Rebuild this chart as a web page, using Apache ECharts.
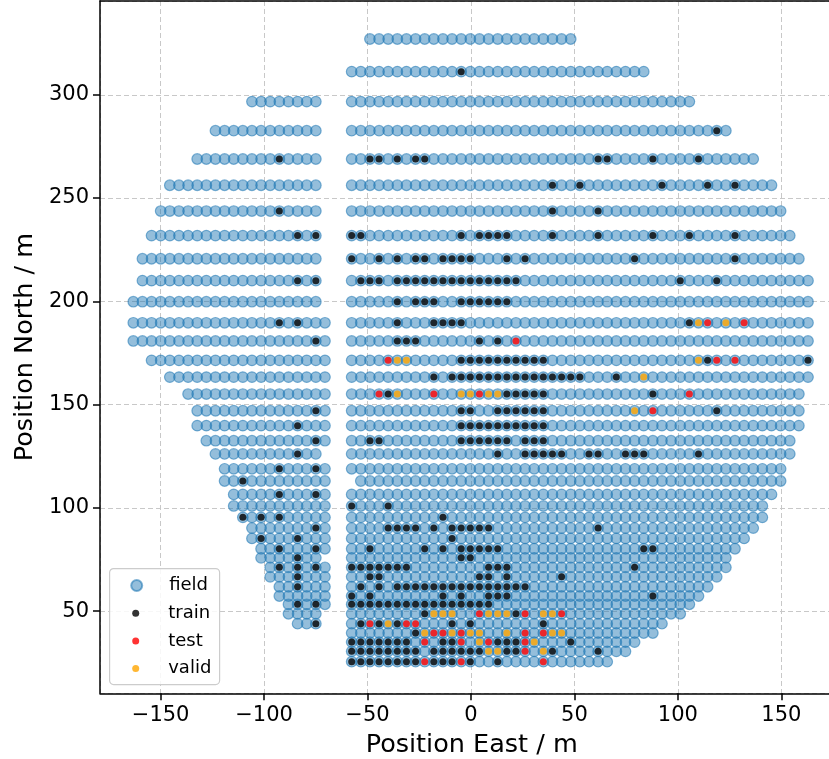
<!DOCTYPE html>
<html><head><meta charset="utf-8">
<script src="https://cdn.jsdelivr.net/npm/echarts@6/dist/echarts.min.js"></script>
<style>html,body{margin:0;padding:0;background:#fff}#c{width:829px;height:759px}</style>
</head><body><div id="c"></div>
<script>
// Row north positions (m), top to bottom
const rowY = [327.0, 311.2, 296.7, 282.6, 268.9, 256.2, 243.7, 231.8, 220.6, 210.0,
  199.8, 189.6, 180.8, 171.4, 163.3, 155.1, 147.0, 139.8, 132.5, 126.1,
  118.9, 113.0, 106.5, 100.9, 95.4, 90.2, 85.2, 80.2, 75.8, 71.2,
  66.6, 61.8, 57.3, 53.3, 48.7, 43.9, 39.4, 35.0, 30.5, 25.5];
// Station spacing along a row (m) and first station east position of the two blocks
const stationStep = 4.411;
const westBlockStart = -163.2;
const eastBlockStart = -57.66;
// Station index ranges per row (null = no stations)
const westFrom = [null, null, 13, 9, 7, 4, 3, 2, 1, 1, 0, 0, 0, 2, 4, 6, 7, 7, 8, 9,
  10, 10, 11, 11, 12, 13, 13, 14, 14, 15, 15, 16, 16, 17, 17, 18, null, null, null, null];
const westTo = [null, null, 20, 20, 20, 20, 20, 20, 20, 20, 20, 21, 21, 21, 21, 21, 21, 21, 21, 20,
  21, 21, 21, 21, 21, 21, 21, 21, 20, 21, 21, 21, 21, 21, 20, 20, null, null, null, null];
const eastFrom = [2, 0, 0, 0, 0, 0, 0, 0, 0, 0, 0, 0, 0, 0, 0, 0, 0, 0, 0, 0,
  0, 1, 0, 0, 0, 0, 0, 0, 0, 0, 0, 0, 0, 0, 0, 0, 0, 0, 0, 0];
const eastTo = [24, 32, 37, 41, 44, 46, 47, 48, 49, 50, 50, 50, 50, 50, 50, 49, 49, 49, 48, 48,
  47, 47, 46, 45, 45, 44, 43, 42, 41, 41, 40, 39, 38, 37, 36, 34, 33, 31, 30, 28];
// Selected stations (index lists per row)
const trainWest = {4:[16], 6:[16], 7:[18,20], 9:[18,20], 11:[16,18], 12:[20], 16:[20], 17:[18], 18:[20], 19:[18],
  20:[16,20], 21:[12], 22:[16,20], 24:[12,14,16], 25:[20], 26:[14,18], 27:[16,20], 28:[18], 29:[16,18,20],
  30:[18], 31:[18], 33:[18,20], 35:[20]};
const trainEast = {1:[12], 3:[40], 4:[2,3,5,7,8,27,28,33,38], 5:[22,25,34,39,42], 6:[22,27],
  7:[0,1,12,14,15,16,17,22,27,33,37,42], 8:[0,3,5,7,8,10,11,12,13,17,19,31,42],
  9:[1,2,3,5,6,7,8,9,10,11,12,13,14,15,16,17,18,36,40], 10:[5,7,8,9,12,13,14,15,16,17],
  11:[5,9,10,11,12,37], 12:[5,6,7,14,16], 13:[12,13,14,15,16,17,18,19,20,21,39,50],
  14:[9,11,12,13,14,15,16,17,18,19,20,21,22,23,24,25,29], 15:[4,17,18,19,20,21,33],
  16:[12,13,16,17,18,19,20,21,40], 17:[12,13,14,15,16,17,18,19,20,21],
  18:[2,3,12,13,14,15,16,17,19,20,21], 19:[16,19,20,21,22,23,26,27,30,31,32,38],
  23:[0,4], 24:[10], 25:[4,5,6,7,9,11,12,13,14,15,27], 26:[11], 27:[2,8,10,12,13,14,15,16,32,33],
  28:[12,13], 29:[0,1,2,3,4,5,6,15,16,17,31], 30:[2,3,14,15,17,23],
  31:[1,3,5,6,7,8,9,10,11,12,13,14,15,16,17,18,19], 32:[0,2,10,12,15,16,17,33],
  33:[0,1,2,3,4,5,6,7,8,9,10,11,12,13,14,15], 34:[8,18], 35:[1,3,5,11,13,21],
  36:[7], 37:[0,1,2,3,4,5,6,10,11,16,17,18,24], 38:[0,1,2,3,4,5,6,7,9,10,11,12,13,14,17,18,22,27],
  39:[0,1,2,3,4,5,6,7,9,10,11,13,16]};
const testEast = {11:[39,43], 12:[18], 13:[4,40,42], 15:[3,9,14,37], 16:[33], 34:[14,19,23],
  35:[2,6,7], 36:[9,10,12,19,21], 37:[8,12,15,19], 38:[19], 39:[8,12,21]};
const validEast = {11:[38,41], 13:[5,6,38], 14:[32], 15:[5,12,13,15,16], 16:[31], 34:[9,10,11,15,16,17,21,22],
  35:[4], 36:[8,11,13,14,17,22,23], 37:[14,20], 38:[15,16,21]};

const westX = j => +(westBlockStart + j * stationStep).toFixed(2);
const eastX = c => +(eastBlockStart + c * stationStep).toFixed(2);

const field = [];
rowY.forEach((y, r) => {
  if (westFrom[r] !== null) for (let j = westFrom[r]; j <= westTo[r]; j++) field.push([westX(j), y]);
  for (let c = eastFrom[r]; c <= eastTo[r]; c++) field.push([eastX(c), y]);
});
function pick(westMap, eastMap) {
  const out = [];
  Object.keys(westMap || {}).forEach(r => westMap[r].forEach(j => out.push([westX(j), rowY[r]])));
  Object.keys(eastMap || {}).forEach(r => eastMap[r].forEach(c => out.push([eastX(c), rowY[r]])));
  return out;
}
const train = pick(trainWest, trainEast);
const test = pick(null, testEast);
const valid = pick(null, validEast);

const FONT = 'DejaVu Sans';
const chart = echarts.init(document.getElementById('c'), null, {renderer: 'canvas'});
const minus = v => String(v).replace('-', '\u2212');
const axisCommon = {
  axisLine: {show: true, onZero: false, lineStyle: {color: '#000', width: 1.5}},
  axisTick: {show: true, length: 7, lineStyle: {color: '#000', width: 1.5}},
  splitLine: {show: true, lineStyle: {color: '#c8c8c8', width: 1, type: [5, 3]}},
  minInterval: 50, maxInterval: 50,
};
chart.setOption({
  animation: false,
  backgroundColor: '#fff',
  grid: {left: 100, top: 1, right: -14.4, bottom: 65.7, outerBoundsMode: 'none', containLabel: false},
  xAxis: [Object.assign({}, axisCommon, {
    type: 'value', min: -179.3, max: 180,
    axisLabel: {showMinLabel: false, showMaxLabel: false, margin: 12, fontFamily: FONT, fontSize: 21, color: '#000', formatter: minus},
    name: 'Position East / m', nameLocation: 'middle', nameGap: 39,
    nameTextStyle: {fontFamily: FONT, fontSize: 25.5, color: '#000'}
  }), {
    type: 'value', position: 'top', min: -179.3, max: 180,
    axisLine: {show: true, onZero: false, lineStyle: {color: '#000', width: 1.5}},
    axisTick: {show: false}, axisLabel: {show: false}, splitLine: {show: false}
  }],
  yAxis: Object.assign({}, axisCommon, {
    type: 'value', min: 10.2, max: 345.4,
    axisLabel: {showMinLabel: false, showMaxLabel: false, margin: 11, fontFamily: FONT, fontSize: 21, color: '#000', formatter: minus},
    name: 'Position North / m', nameLocation: 'middle', nameGap: 56,
    nameTextStyle: {fontFamily: FONT, fontSize: 25.5, color: '#000'}
  }),
  graphic: [{
    type: 'rect', left: 109, top: 568, z: 10,
    shape: {width: 110, height: 116, r: 4},
    style: {fill: 'rgba(255,255,255,0.85)', stroke: '#cccccc', lineWidth: 1.2}
  }],
  legend: [{
    data: ['field'], orient: 'vertical', left: 130.2, top: 575.5, padding: 0,
    itemWidth: 55, itemHeight: 11, itemGap: 7.5, z: 20,
    textStyle: {fontFamily: FONT, fontSize: 18, color: '#000', lineHeight: 20}
  }, {
    data: ['train', 'test', 'valid'], orient: 'vertical', left: 132.2, top: 603.2, padding: 0,
    itemWidth: 55, itemHeight: 7, itemGap: 7.7, z: 20,
    textStyle: {fontFamily: FONT, fontSize: 18, color: '#000', lineHeight: 20}
  }],
  series: [
    {name: 'field', type: 'scatter', data: field, symbol: 'circle', symbolSize: 10.6, z: 2,
      itemStyle: {color: 'rgba(31,119,180,0.6)', borderColor: 'rgba(31,119,180,0.7)', borderWidth: 1.2}},
    {name: 'train', type: 'scatter', data: train, symbol: 'circle', symbolSize: 7, z: 3,
      itemStyle: {color: '#000'}},
    {name: 'test', type: 'scatter', data: test, symbol: 'circle', symbolSize: 7, z: 4,
      itemStyle: {color: '#ff0000'}},
    {name: 'valid', type: 'scatter', data: valid, symbol: 'circle', symbolSize: 7, z: 5,
      itemStyle: {color: '#ffa500'}}
  ]
});
</script></body></html>
